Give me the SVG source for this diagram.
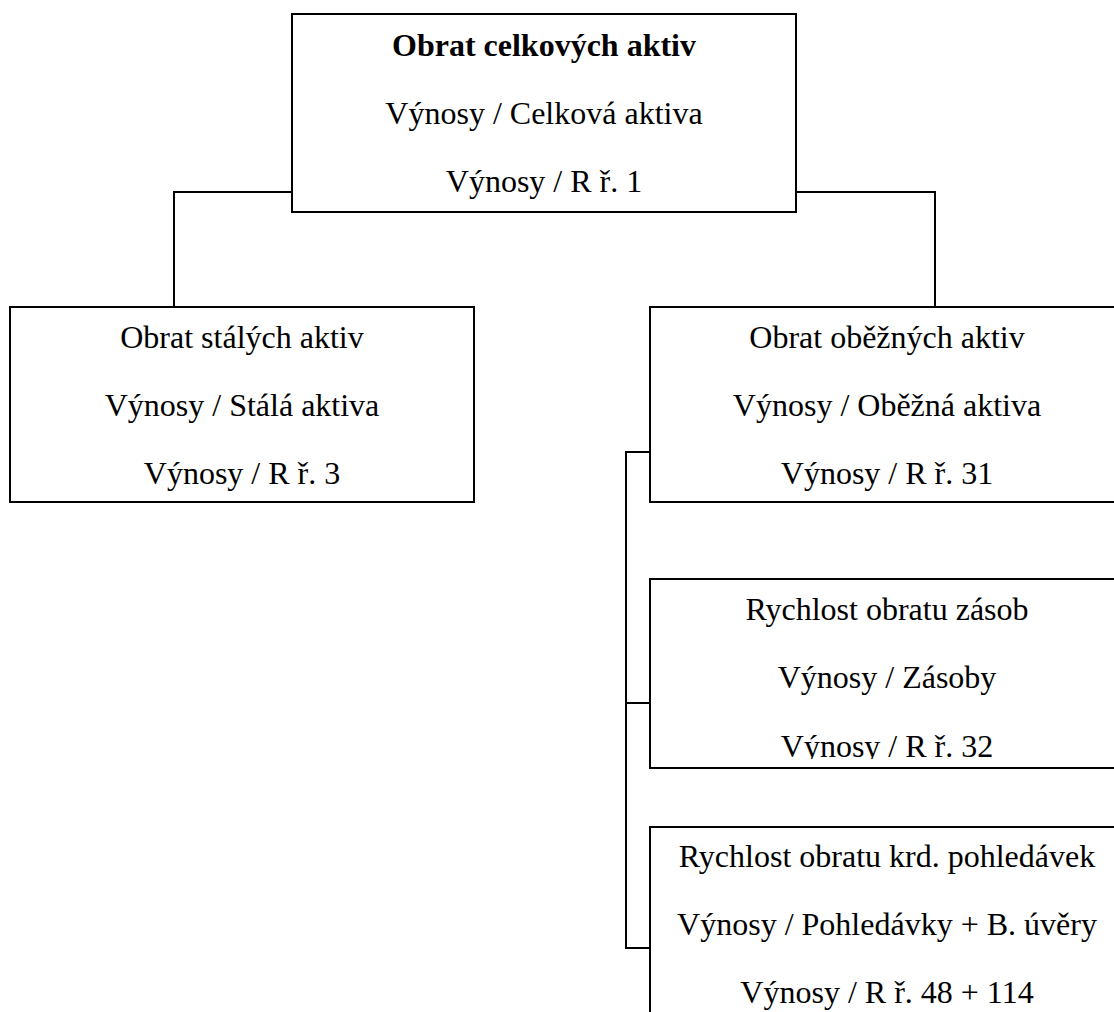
<svg xmlns="http://www.w3.org/2000/svg" width="1114" height="1012" viewBox="0 0 1114 1012">
  <style>
    .box { fill: #ffffff; stroke: #000000; stroke-width: 2; }
    .wire { fill: none; stroke: #000000; stroke-width: 2; }
    text { font-family: "Liberation Serif", "Times New Roman", serif; font-size: 32px; fill: #000000; text-anchor: middle; }
    .title { font-weight: bold; }
  </style>
  <defs>
    <!-- the text frame of the inventory box is shorter than its border -->
    <clipPath id="clip-zasoby">
      <rect x="650" y="579" width="480" height="180"/>
    </clipPath>
  </defs>
  <rect width="1114" height="1012" fill="#ffffff"/>

  <!-- connectors -->
  <g id="connectors">
    <polyline class="wire" points="292,192 174,192 174,307"/>
    <polyline class="wire" points="796,192 935,192 935,307"/>
    <polyline class="wire" points="650,452 626,452 626,948 650,948"/>
    <line class="wire" x1="626" y1="703" x2="650" y2="703"/>
  </g>

  <!-- root: total asset turnover -->
  <g id="obrat-celkovych-aktiv">
    <rect class="box" x="292" y="14" width="504" height="198"/>
    <text class="title" x="544" y="56">Obrat celkových aktiv</text>
    <text x="544" y="124">Výnosy / Celková aktiva</text>
    <text x="544" y="192">Výnosy / R ř. 1</text>
  </g>

  <g id="obrat-stalych-aktiv">
    <rect class="box" x="10" y="307" width="464" height="195"/>
    <text x="242" y="348">Obrat stálých aktiv</text>
    <text x="242" y="416">Výnosy / Stálá aktiva</text>
    <text x="242" y="484">Výnosy / R ř. 3</text>
  </g>

  <g id="obrat-obeznych-aktiv">
    <rect class="box" x="650" y="307" width="474" height="195"/>
    <text x="887" y="348">Obrat oběžných aktiv</text>
    <text x="887" y="416">Výnosy / Oběžná aktiva</text>
    <text x="887" y="484">Výnosy / R ř. 31</text>
  </g>

  <g id="rychlost-obratu-zasob">
    <rect class="box" x="650" y="579" width="474" height="189"/>
    <g clip-path="url(#clip-zasoby)">
      <text x="887" y="620">Rychlost obratu zásob</text>
      <text x="887" y="688">Výnosy / Zásoby</text>
      <text x="887" y="757">Výnosy / R ř. 32</text>
    </g>
  </g>

  <g id="rychlost-obratu-pohledavek">
    <rect class="box" x="650" y="827" width="474" height="200"/>
    <text x="887" y="867">Rychlost obratu krd. pohledávek</text>
    <text x="887" y="935">Výnosy / Pohledávky + B. úvěry</text>
    <text x="887" y="1003">Výnosy / R ř. 48 + 114</text>
  </g>
</svg>
